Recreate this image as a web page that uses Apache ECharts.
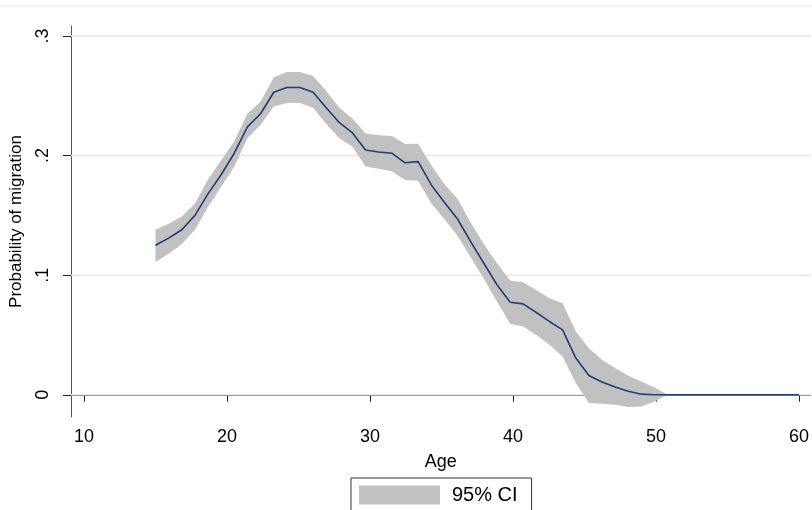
<!DOCTYPE html>
<html>
<head>
<meta charset="utf-8">
<script src="https://cdn.jsdelivr.net/npm/echarts@6/dist/echarts.min.js"></script>
<style>
  html, body { margin: 0; padding: 0; background: #fff; }
  #chart { width: 812px; height: 510px; }
</style>
</head>
<body>
<div id="chart"></div>
<script>
// age grid of the prediction
var ages = [15.00, 15.92, 16.84, 17.76, 18.67, 19.59, 20.51, 21.43, 22.35, 23.27,
  24.18, 25.10, 26.02, 26.94, 27.86, 28.78, 29.69, 30.61, 31.53, 32.45,
  33.37, 34.29, 35.20, 36.12, 37.04, 37.96, 38.88, 39.80, 40.71, 41.63,
  42.55, 43.47, 44.39, 45.31, 46.22, 47.14, 48.06, 48.98, 49.90, 50.82,
  51.73, 52.65, 53.57, 54.49, 55.41, 56.33, 57.24, 58.16, 59.08, 60.00];
// predicted probability
var prob = [0.125, 0.131, 0.138, 0.150, 0.168, 0.184, 0.202, 0.224, 0.235, 0.253,
  0.257, 0.257, 0.253, 0.240, 0.2275, 0.219, 0.2047, 0.203, 0.202, 0.194,
  0.195, 0.1755, 0.161, 0.147, 0.128, 0.110, 0.092, 0.0774, 0.076, 0.0688,
  0.0613, 0.0543, 0.0307, 0.0161, 0.0106, 0.0064, 0.003, 0.0005, 0, 0,
  0, 0, 0, 0, 0, 0, 0, 0, 0, 0];
// 95% CI bounds
var ciUpper = [0.138, 0.143, 0.149, 0.160, 0.180, 0.196, 0.212, 0.235, 0.245, 0.2654,
  0.270, 0.270, 0.2665, 0.254, 0.240, 0.231, 0.2186, 0.217, 0.2164, 0.2097,
  0.210, 0.192, 0.176, 0.164, 0.144, 0.126, 0.110, 0.0955, 0.094, 0.0877,
  0.0808, 0.0766, 0.0529, 0.039, 0.0292, 0.0223, 0.0159, 0.0111, 0.006, 0,
  0, 0, 0, 0, 0, 0, 0, 0, 0, 0];
var ciLower = [0.111, 0.118, 0.126, 0.138, 0.157, 0.174, 0.191, 0.2145, 0.2256, 0.241,
  0.244, 0.244, 0.240, 0.2265, 0.2145, 0.2075, 0.191, 0.189, 0.187, 0.1796,
  0.179, 0.160, 0.147, 0.133, 0.115, 0.097, 0.078, 0.0593, 0.057, 0.050,
  0.0418, 0.032, 0.0098, -0.0069, -0.0075, -0.0084, -0.0103, -0.0098, -0.0056, 0,
  0, 0, 0, 0, 0, 0, 0, 0, 0, 0];
var xTicks = [10, 20, 30, 40, 50, 60];
var yTicks = [0, 0.1, 0.2, 0.3];

var font = "'Liberation Sans', Arial, sans-serif";
var bandColor = '#c1c1c1';

var lineData = ages.map(function (a, i) { return [a, prob[i]]; });

// band polygon: upper edge left->right, lower edge right->left
function renderBand(params, api) {
  var pts = [];
  for (var i = 0; i < ages.length; i++) pts.push(api.coord([ages[i], ciUpper[i]]));
  for (var j = ages.length - 1; j >= 0; j--) pts.push(api.coord([ages[j], ciLower[j]]));
  return { type: 'polygon', shape: { points: pts }, style: { fill: bandColor } };
}

// horizontal grid lines at the y ticks
function renderGrid(params, api) {
  var cs = params.coordSys;
  var kids = yTicks.map(function (v) {
    var y = api.coord([ages[0], v])[1];
    return {
      type: 'line',
      shape: { x1: cs.x, y1: y, x2: cs.x + cs.width, y2: y },
      style: { stroke: '#e3e8f1', lineWidth: 1.5 }
    };
  });
  return { type: 'group', children: kids };
}

var myChart = echarts.init(document.getElementById('chart'), null, { renderer: 'canvas' });
var option = {
  animation: false,
  backgroundColor: '#fff',
  textStyle: { fontFamily: font },
  grid: { left: 71, right: 0, top: 26, bottom: 93 },
  graphic: [
    { type: 'line', shape: { x1: 0, y1: 6, x2: 812, y2: 6 }, style: { stroke: '#e6eaf2', lineWidth: 1 } }
  ],
  xAxis: {
    type: 'value',
    min: 9.093,
    max: 60.79,
    name: 'Age',
    nameLocation: 'middle',
    nameGap: 36,
    nameTextStyle: { fontSize: 18, color: '#000', fontFamily: font },
    axisLine: { show: true, lineStyle: { color: '#555', width: 1 } },
    axisTick: { show: true, customValues: xTicks, length: 7, lineStyle: { color: '#222' } },
    axisLabel: { customValues: xTicks, fontSize: 18, color: '#000', margin: 11, fontFamily: font },
    splitLine: { show: false }
  },
  yAxis: {
    type: 'value',
    min: -0.0186,
    max: 0.3084,
    name: 'Probability of migration',
    nameLocation: 'middle',
    nameGap: 46,
    nameTextStyle: { fontSize: 17, color: '#000', fontFamily: font },
    axisLine: { show: true, lineStyle: { color: '#555', width: 1 } },
    axisTick: { show: true, customValues: yTicks, length: 8, lineStyle: { color: '#222' } },
    axisLabel: {
      customValues: yTicks,
      rotate: 90,
      fontSize: 18,
      color: '#000',
      margin: 19,
      fontFamily: font,
      formatter: function (v) { return v === 0 ? '0' : String(v).replace('0.', '.'); }
    },
    splitLine: { show: false }
  },
  legend: {
    data: ['95% CI'],
    left: 351,
    top: 478,
    orient: 'horizontal',
    icon: 'rect',
    itemWidth: 81,
    itemHeight: 19,
    padding: [7, 14, 7, 8],
    borderColor: '#333',
    borderWidth: 1,
    textStyle: { fontSize: 20, color: '#000', padding: [0, 0, 0, 7], fontFamily: font }
  },
  series: [
    {
      name: 'grid',
      type: 'custom',
      renderItem: renderGrid,
      data: [0],
      z: 1,
      silent: true
    },
    {
      name: '95% CI',
      type: 'custom',
      renderItem: renderBand,
      data: [0],
      itemStyle: { color: bandColor },
      z: 2,
      silent: true
    },
    {
      name: 'prob',
      type: 'line',
      data: lineData,
      symbol: 'none',
      lineStyle: { color: '#1f3f74', width: 1.6 },
      z: 3,
      silent: true
    }
  ]
};
option && myChart.setOption(option);
</script>
</body>
</html>
